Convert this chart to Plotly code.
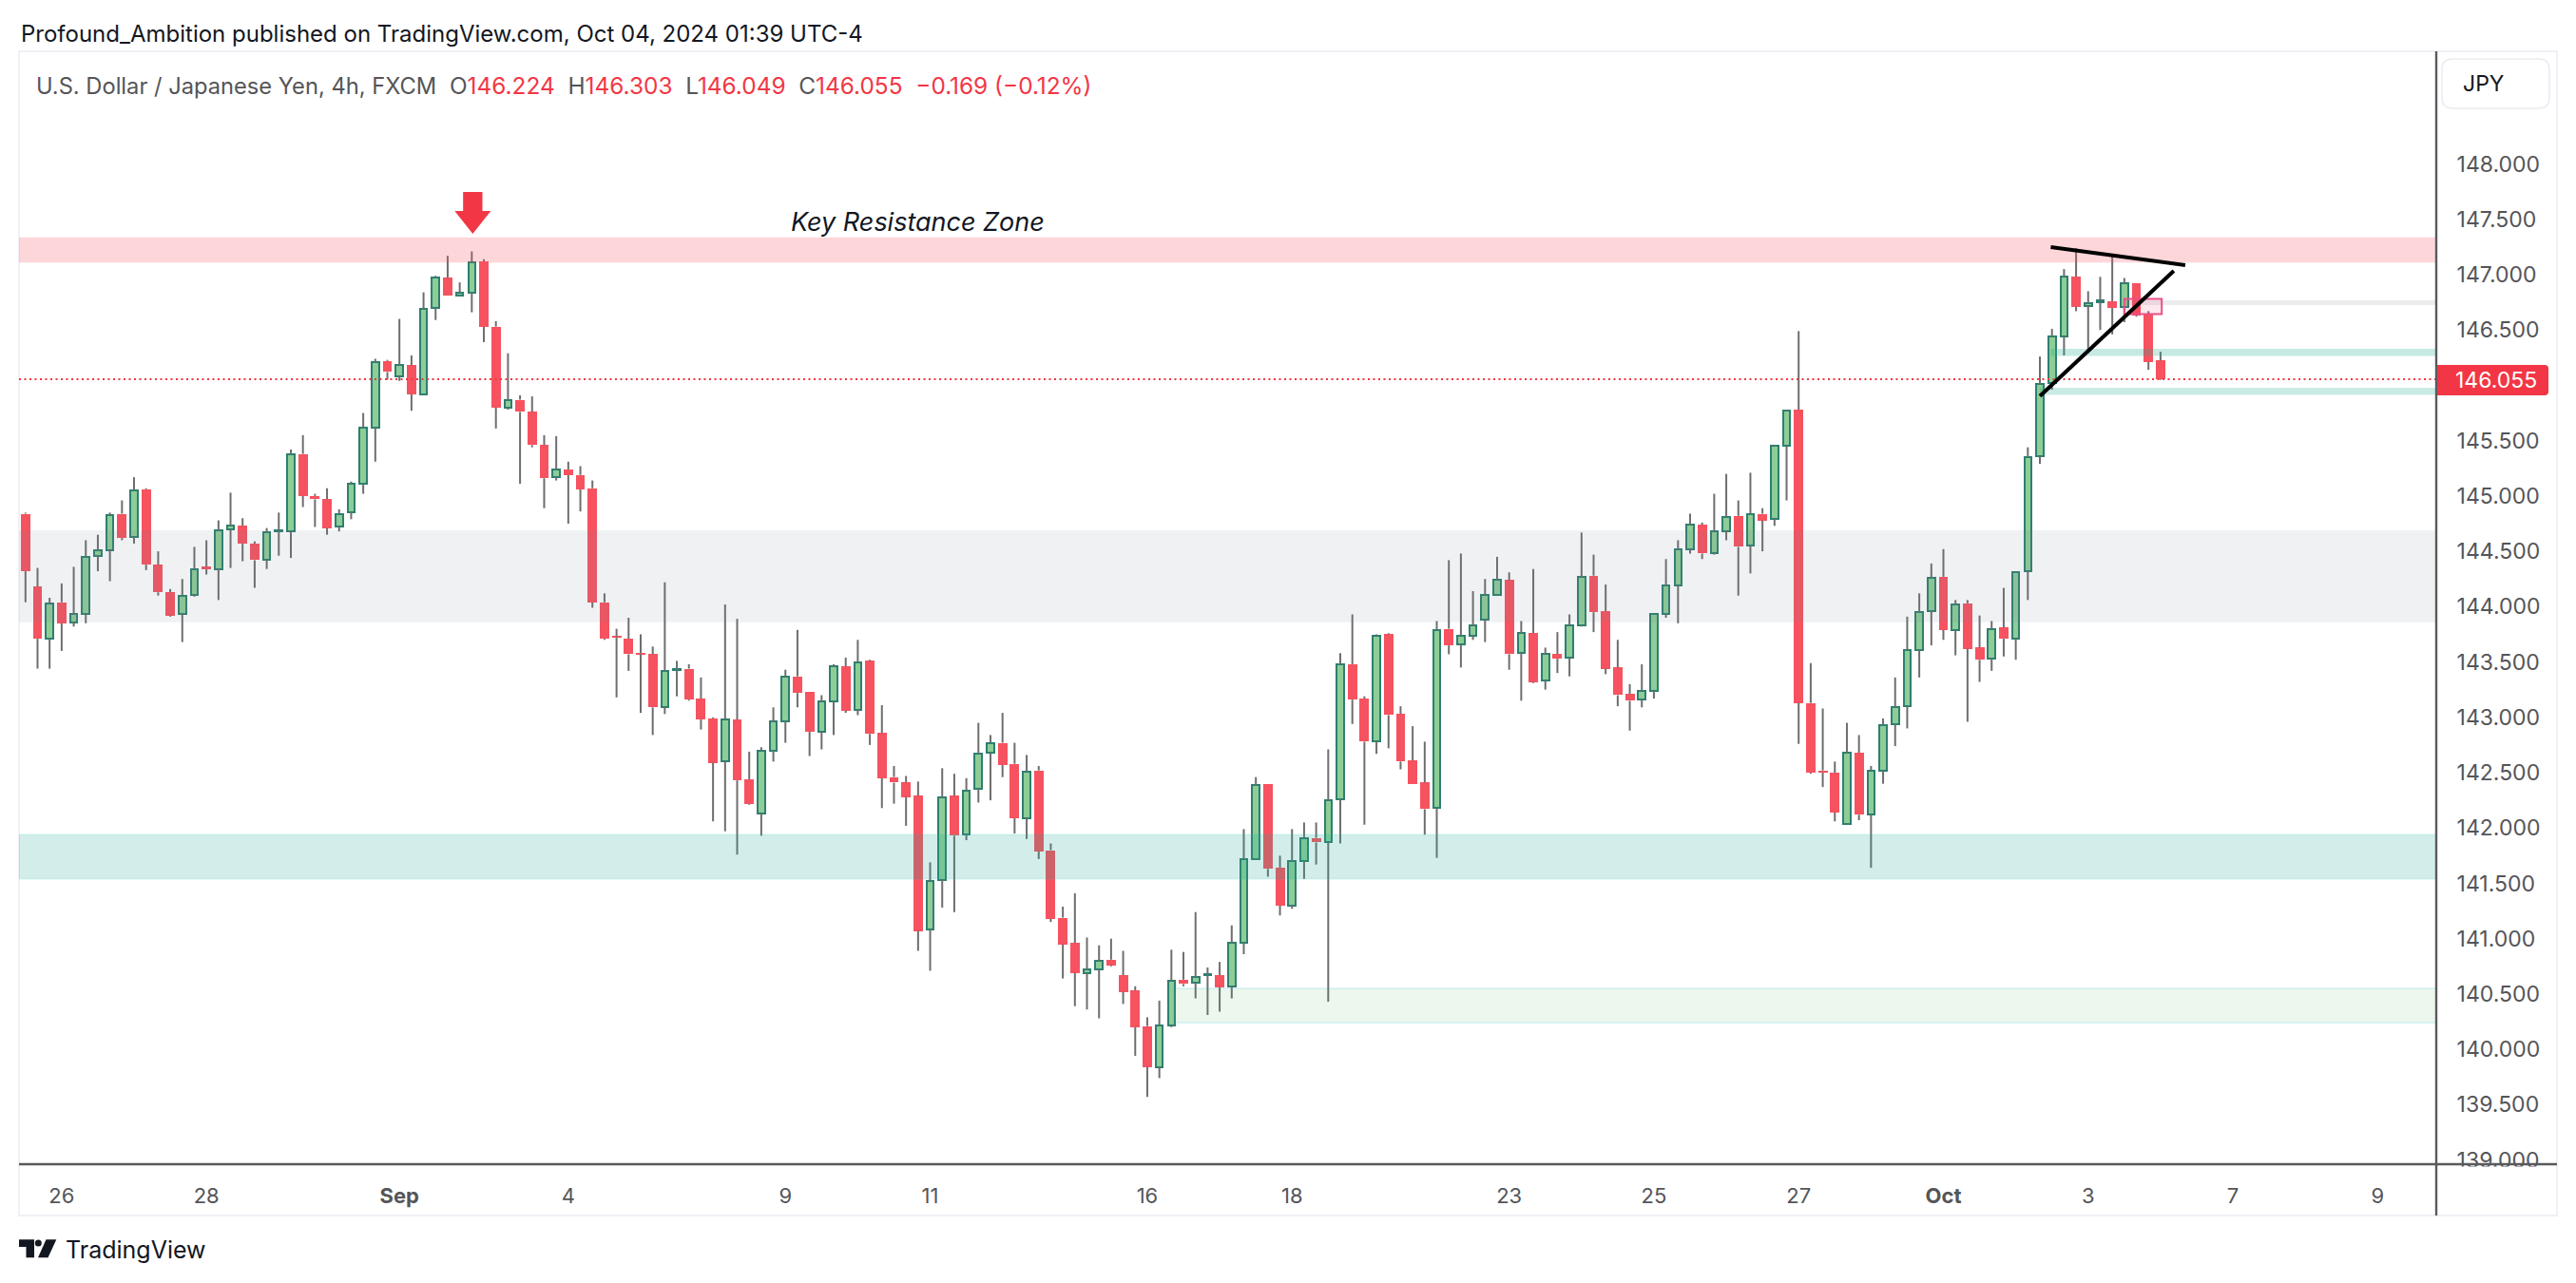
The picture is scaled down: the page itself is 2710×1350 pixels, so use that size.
import plotly.graph_objects as go

opens = [144.84,144.18,143.71,144.04,143.86,143.93,144.46,144.51,144.84,144.63,145.06,144.38,144.13,143.93,144.11,144.36,144.34,144.70,144.73,144.57,
144.42,144.68,144.68,145.38,145.00,144.97,144.72,144.85,145.11,145.62,146.22,146.08,146.18,145.92,146.70,146.97,146.81,146.84,147.12,146.53,
145.80,145.87,145.76,145.46,145.17,145.24,145.19,145.07,144.04,143.73,143.71,143.58,143.57,143.09,143.43,143.44,143.17,142.99,142.60,142.98,
142.44,142.13,142.70,142.96,143.37,143.23,142.87,143.14,143.46,143.07,143.51,142.86,142.46,142.41,142.29,141.08,141.53,142.29,141.94,142.35,
142.68,142.77,142.58,142.09,142.52,141.80,141.19,140.96,140.69,140.72,140.81,140.67,140.53,140.21,139.84,140.22,140.63,140.60,140.67,140.67,
140.57,140.96,141.72,142.40,141.64,141.30,141.70,141.91,141.87,142.26,143.48,143.17,142.78,143.75,143.03,142.61,142.41,142.18,143.80,143.66,
143.74,143.88,144.11,144.24,143.58,143.76,143.33,143.57,143.54,143.83,144.28,143.96,143.45,143.21,143.16,143.24,143.93,144.19,144.52,144.74,
144.48,144.68,144.82,144.55,144.84,144.79,145.45,145.78,143.13,142.52,142.50,142.04,142.68,142.12,142.52,142.94,143.10,143.61,143.96,144.27,
143.79,144.03,143.63,143.53,143.81,143.71,144.32,145.36,146.02,146.44,146.98,146.72,146.75,146.76,146.71,146.92,146.64,146.224]
highs = [144.85,144.35,144.08,144.21,144.36,144.60,144.65,144.85,144.96,145.17,145.07,144.50,144.16,144.25,144.54,144.60,144.78,145.03,144.80,144.59,
144.71,144.85,145.42,145.55,145.02,145.07,144.88,145.13,145.75,146.24,146.23,146.60,146.27,146.84,146.99,147.17,146.93,147.21,147.14,146.58,
146.29,145.91,145.90,145.55,145.54,145.31,145.27,145.14,144.12,143.80,143.90,143.75,143.64,144.22,143.51,143.48,143.36,143.00,144.02,143.89,
142.69,142.73,143.09,143.43,143.79,143.23,143.20,143.48,143.54,143.70,143.52,143.11,142.56,142.47,142.42,141.69,142.54,142.49,142.45,142.95,
142.84,143.04,142.77,142.66,142.56,141.86,141.29,141.41,141.01,140.94,141.00,140.89,140.57,140.29,140.44,140.90,140.88,141.24,140.74,140.79,
141.12,141.99,142.46,142.40,141.75,141.99,142.05,142.05,142.71,143.58,143.93,143.19,143.75,143.76,143.10,142.92,142.78,143.87,144.42,144.48,
144.14,144.25,144.45,144.31,143.87,144.34,143.63,143.77,143.93,144.67,144.47,144.20,143.70,143.30,143.48,143.93,144.43,144.60,144.84,144.76,
145.02,145.20,144.96,145.21,144.89,145.46,145.78,146.49,143.49,143.08,142.60,142.95,142.84,142.56,142.99,143.36,143.91,144.12,144.39,144.52,
144.06,144.06,143.92,143.87,144.17,144.31,145.44,146.26,146.51,147.05,147.24,146.85,146.98,147.18,146.97,146.92,146.67,146.303]
lows = [144.04,143.44,143.44,143.60,143.82,143.85,144.32,144.23,144.60,144.57,144.33,144.10,143.91,143.68,144.09,144.29,144.06,144.35,144.41,144.17,
144.34,144.46,144.44,144.90,144.72,144.65,144.68,144.79,145.02,145.31,146.05,146.04,145.77,145.92,146.59,146.81,146.81,146.66,146.39,145.61,
145.78,145.11,145.44,144.89,145.14,144.75,144.86,143.99,143.70,143.18,143.42,143.04,142.84,143.03,143.19,143.15,142.89,142.06,141.97,141.76,
142.21,141.93,142.60,142.77,143.09,142.65,142.71,142.84,143.04,143.02,142.75,142.18,142.22,142.02,140.89,140.71,141.28,141.24,141.89,142.23,
142.25,142.46,141.95,141.90,141.72,141.15,140.64,140.39,140.36,140.28,140.75,140.41,139.94,139.57,139.74,140.20,140.57,140.46,140.31,140.34,
140.46,140.86,141.71,141.56,141.21,141.27,141.54,141.67,140.43,141.86,142.94,142.03,142.67,142.72,142.53,142.40,141.94,141.73,143.57,143.45,
143.70,143.68,144.11,143.43,143.15,143.31,143.25,143.40,143.37,143.82,143.77,143.39,143.10,142.88,143.09,143.17,143.90,143.85,144.48,144.43,
144.47,144.60,144.10,144.30,144.50,144.73,144.96,142.76,142.49,142.37,142.06,142.04,142.07,141.64,142.40,142.74,142.90,143.36,143.65,143.70,
143.56,142.96,143.32,143.42,143.55,143.52,144.06,145.29,145.96,146.27,146.67,146.29,146.50,146.46,146.57,146.62,146.14,146.049]
closes = [144.32,143.71,144.03,143.85,143.93,144.45,144.51,144.83,144.62,145.05,144.38,144.13,143.92,144.10,144.34,144.34,144.69,144.73,144.57,144.42,
144.67,144.69,145.38,145.00,144.97,144.71,144.84,145.11,145.62,146.21,146.12,146.18,145.92,146.69,146.97,146.81,146.84,147.11,146.53,145.80,
145.87,145.76,145.46,145.16,145.24,145.19,145.06,144.04,143.71,143.72,143.57,143.57,143.09,143.42,143.44,143.16,142.98,142.59,142.98,142.43,
142.22,142.70,142.96,143.37,143.22,142.87,143.14,143.46,143.06,143.50,142.85,142.45,142.41,142.28,141.07,141.52,142.28,141.93,142.34,142.67,
142.77,142.57,142.09,142.51,141.79,141.18,140.95,140.69,140.72,140.80,140.76,140.52,140.20,139.84,140.22,140.62,140.59,140.65,140.68,140.56,
140.96,141.72,142.39,141.63,141.30,141.70,141.91,141.87,142.25,143.48,143.16,142.78,143.74,143.02,142.60,142.40,142.17,143.79,143.65,143.74,
143.83,144.11,144.24,143.57,143.76,143.32,143.57,143.53,143.83,144.27,143.95,143.44,143.20,143.15,143.24,143.93,144.19,144.52,144.74,144.48,
144.68,144.81,144.54,144.84,144.78,145.45,145.77,143.13,142.50,142.50,142.14,142.68,142.12,142.52,142.93,143.09,143.61,143.95,144.26,143.79,
144.02,143.62,143.52,143.80,143.71,144.31,145.35,146.01,146.44,146.98,146.71,146.74,146.77,146.70,146.92,146.63,146.21,146.055]

bar_index = list(range(1, len(opens) + 1))
x_tick_index = [4, 16, 32, 46, 64, 76, 94, 106, 124, 136, 148, 160, 172, 184, 196]
x_tick_labels = ["26", "28", "<b>Sep</b>", "4", "9", "11", "16", "18", "23", "25", "27", "<b>Oct</b>", "3", "7", "9"]
price_ticks = [139, 139.5, 140, 140.5, 141, 141.5, 142, 142.5, 143, 143.5, 144, 144.5, 145, 145.5, 146.5, 147, 147.5, 148]
last_price = 146.055

RED = "#f7525f"
RED2 = "#f23645"
GREEN_FILL = "#8dcd96"
GREEN_LINE = "#2e7f70"
WICK = "#6e6e6e"
AXIS = "#5a5a5d"
BORDER = "#f0f0f6"
TEXT = "#555558"
FONT = "Inter, Roboto, sans-serif"

L, R, T, B = 20, 2563, 54, 1225
def px(x): return (x - L) / (R - L)
def py(y): return 1 - (y - T) / (B - T)

up = [i for i in range(len(opens)) if closes[i] >= opens[i]]
dn = [i for i in range(len(opens)) if closes[i] < opens[i]]

# wicks are split at the body: plotly always paints lines above bars
wick_x, wick_y = [], []
for i, o, h, l, c in zip(bar_index, opens, highs, lows, closes):
    wick_x += [i, i, None, i, i, None]
    wick_y += [max(o, c), h, None, l, min(o, c), None]

fig = go.Figure()
fig.add_trace(go.Bar(x=[bar_index[i] for i in dn], y=[opens[i] - closes[i] for i in dn], base=[closes[i] for i in dn],
                     width=0.78, marker=dict(color=RED, line=dict(width=0)), showlegend=False, hoverinfo="skip"))
fig.add_trace(go.Bar(x=[bar_index[i] for i in up], y=[closes[i] - opens[i] for i in up], base=[opens[i] for i in up],
                     width=0.60, marker=dict(color=GREEN_FILL, line=dict(color=GREEN_LINE, width=2)), showlegend=False, hoverinfo="skip"))
fig.add_trace(go.Scatter(x=wick_x, y=wick_y, mode="lines", line=dict(color=WICK, width=2), hoverinfo="skip", showlegend=False))

shapes = []
def zone(x0, x1, y0, y1, fill, line=None):
    shapes.append(dict(type="rect", xref="x", yref="y", x0=x0, x1=x1, y0=y0, y1=y1, fillcolor=fill,
                       line=dict(width=2 if line else 0, color=line or "rgba(0,0,0,0)"), layer="above"))

xmin, xmax = 0.464, 200.86
zone(xmin, xmax, 147.11, 147.337, "rgba(247,82,95,0.24)")
zone(xmin, xmax, 143.86, 144.69, "rgba(120,130,150,0.11)")
zone(xmin, xmax, 141.54, 141.94, "rgba(34,171,148,0.2)", "rgba(34,200,170,0.12)")
zone(96.2, xmax, 140.24, 140.55, "rgba(76,175,80,0.1)", "rgba(0,188,212,0.12)")
zone(168.9, xmax, 146.265, 146.331, "rgba(34,171,148,0.26)")
zone(168.0, xmax, 145.913, 145.978, "rgba(34,171,148,0.24)")
zone(175.0, xmax, 146.726, 146.768, "rgba(120,123,134,0.14)")
zone(175.0, 178.1, 146.643, 146.78, "rgba(233,30,99,0.1)", "#ec4f87")

# last-price line
shapes.append(dict(type="line", xref="x", yref="y", x0=xmin, x1=xmax, y0=last_price, y1=last_price,
                   line=dict(color=RED2, width=2, dash="2px,3.5px"), layer="above"))
# trend lines
shapes.append(dict(type="line", xref="x", yref="y", x0=168.9, x1=180.05, y0=147.249, y1=147.086,
                   line=dict(color="black", width=4), layer="above"))
shapes.append(dict(type="line", xref="x", yref="y", x0=168.0, x1=179.1, y0=145.903, y1=147.034,
                   line=dict(color="black", width=4), layer="above"))
# arrow
ax = 38.08
shapes.append(dict(type="path", xref="x", yref="y", layer="above", line=dict(width=0), fillcolor=RED2,
    path=f"M {ax-0.8} 147.747 L {ax+0.8} 147.747 L {ax+0.8} 147.575 L {ax+1.5} 147.575 L {ax} 147.369 L {ax-1.5} 147.575 L {ax-0.8} 147.575 Z"))

# frame
frame = dict(color=BORDER, width=2)
shapes.append(dict(type="rect", xref="paper", yref="paper", x0=px(20), x1=px(2690), y0=py(1279), y1=py(54), line=frame, layer="below"))
# axis lines
axl = dict(color=AXIS, width=2.4)
shapes.append(dict(type="line", xref="paper", yref="paper", x0=px(2563), x1=px(2563), y0=py(1279), y1=py(54), line=axl, layer="above"))
shapes.append(dict(type="line", xref="paper", yref="paper", x0=px(20), x1=px(2690), y0=py(1225), y1=py(1225), line=axl, layer="above"))

def rounded(x0, x1, y0, y1, r, left=True):
    X = lambda v: px(v)
    Y = lambda v: py(v)
    if left:
        start = f"M {X(x0+r)} {Y(y0)}"
        tail = f"L {X(x0+r)} {Y(y1)} Q {X(x0)} {Y(y1)} {X(x0)} {Y(y1-r)} L {X(x0)} {Y(y0+r)} Q {X(x0)} {Y(y0)} {X(x0+r)} {Y(y0)} Z"
    else:
        start = f"M {X(x0)} {Y(y0)}"
        tail = f"L {X(x0)} {Y(y1)} Z"
    return (start + f" L {X(x1-r)} {Y(y0)} Q {X(x1)} {Y(y0)} {X(x1)} {Y(y0+r)} L {X(x1)} {Y(y1-r)} "
            f"Q {X(x1)} {Y(y1)} {X(x1-r)} {Y(y1)} " + tail)

# price label and currency box
shapes.append(dict(type="path", xref="paper", yref="paper", path=rounded(2564, 2681, 384, 416, 4, left=False),
                   fillcolor=RED2, line=dict(width=0), layer="above"))
shapes.append(dict(type="path", xref="paper", yref="paper", path=rounded(2569, 2682, 62, 114, 11),
                   fillcolor="white", line=dict(color="#ebebf2", width=1.5), layer="above"))

# TradingView logo
shapes.append(dict(type="path", xref="paper", yref="paper", fillcolor="#131722", line=dict(width=0), layer="above",
    path=f"M {px(20)} {py(1304.3)} L {px(36)} {py(1304.3)} L {px(36)} {py(1323.3)} L {px(27.5)} {py(1323.3)} L {px(27.5)} {py(1312)} L {px(20)} {py(1312)} Z"))
shapes.append(dict(type="circle", xref="paper", yref="paper", fillcolor="#131722", line=dict(width=0), layer="above",
    x0=px(36.8), x1=px(43.8), y0=py(1311.4), y1=py(1304.4)))
shapes.append(dict(type="path", xref="paper", yref="paper", fillcolor="#131722", line=dict(width=0), layer="above",
    path=f"M {px(48.5)} {py(1304.3)} L {px(59.3)} {py(1304.3)} L {px(50.5)} {py(1323.3)} L {px(40)} {py(1323.3)} Z"))

def note(x, y, text, size, color, anchor="left", **kw):
    return dict(xref="paper", yref="paper", x=px(x), y=py(y), text=text, showarrow=False, xanchor=anchor, yanchor="middle",
                font=dict(family=FONT, size=size, color=color), **kw)

red = lambda s: f'<span style="color:{RED2}">{s}</span>'
gap = "&#160;&#160;"
legend = ('<span style="font-size:23.7px">U.S. Dollar / Japanese Yen, 4h, FXCM</span>' + gap + "O" + red("146.224") + gap + "H" + red("146.303") +
          gap + "L" + red("146.049") + gap + "C" + red("146.055") + gap + red("−0.169 (−0.12%)"))
annotations = [
    # mask under the x axis line, clipping the lowest price label as the chart does
    dict(xref="paper", yref="paper", x=px(2566), y=py(1226.5), xanchor="left", yanchor="top", text=" ", showarrow=False,
         width=118, height=40, bgcolor="white", borderpad=0),
    note(20, 35, "Profound_Ambition published on TradingView.com, Oct 04, 2024 01:39 UTC-4", 24, "#131722"),
    note(36, 89.5, legend, 24.4, TEXT),
    dict(xref="x", yref="y", x=75.0, y=147.48, text="<i>Key Resistance Zone</i>", showarrow=False, xanchor="center", yanchor="middle",
         font=dict(family=FONT, size=27, color="#131722")),
    note(2589, 88, "JPY", 23, "#131722"),
    note(2581, 400, "146.055", 23, "white"),
    note(67, 1315, "TradingView", 25, "#131722"),
]

fig.update_layout(
    width=2710, height=1350, autosize=False,
    margin=dict(l=L, r=2710 - R, t=T, b=1350 - B, pad=0),
    paper_bgcolor="white", plot_bgcolor="white", barmode="overlay", bargap=0,
    shapes=shapes, annotations=annotations, showlegend=False,
    font=dict(family=FONT),
    xaxis=dict(range=[xmin, xmax], tickmode="array", tickvals=x_tick_index, ticktext=x_tick_labels,
               showgrid=False, zeroline=False, showline=False, ticks="outside", ticklen=14, tickcolor="rgba(0,0,0,0)",
               tickfont=dict(family=FONT, size=22, color=TEXT)),
    yaxis=dict(range=[138.962, 149.018], side="right", tickmode="array", tickvals=price_ticks,
               ticktext=[f"{v:.3f}" for v in price_ticks], showgrid=False, zeroline=False, showline=False,
               ticks="outside", ticklen=16, tickcolor="rgba(0,0,0,0)",
               tickfont=dict(family=FONT, size=23, color=TEXT)),
)
fig.write_html("out.html", config=dict(displayModeBar=False), post_script="document.body.style.margin='0';")
